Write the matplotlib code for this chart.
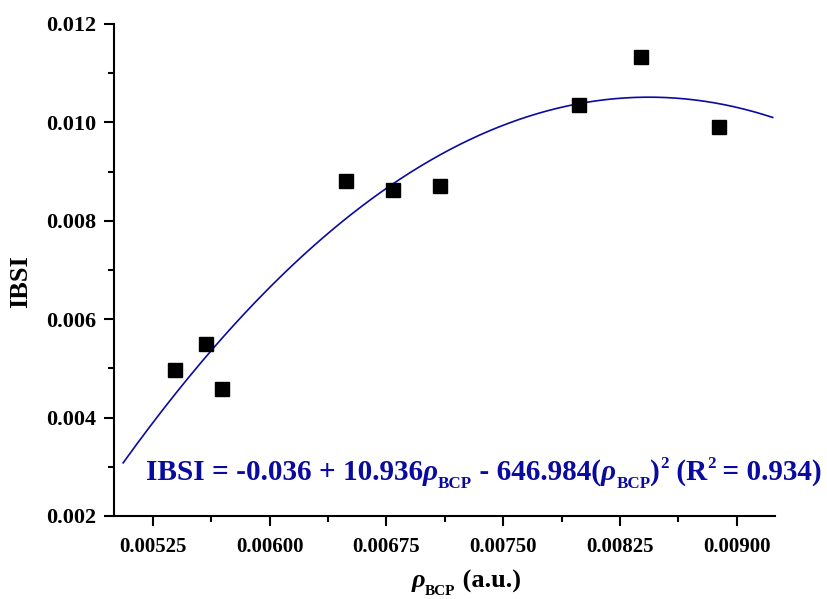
import numpy as np
import matplotlib
matplotlib.use("Agg")
import matplotlib.pyplot as plt
from matplotlib.ticker import MultipleLocator, FormatStrFormatter

plt.rcParams['font.family'] = ['Liberation Serif', 'DejaVu Serif']
plt.rcParams['font.weight'] = 'bold'

# data
rho_bcp = [0.005394, 0.005594, 0.005696, 0.006491, 0.006793, 0.007094, 0.007986, 0.008384, 0.008884]
ibsi = [0.00496, 0.00549, 0.00459, 0.00881, 0.00862, 0.00870, 0.01035, 0.01133, 0.00990]
x_ticks = [0.00525, 0.00600, 0.00675, 0.00750, 0.00825, 0.00900]
y_ticks = [0.002, 0.004, 0.006, 0.008, 0.010, 0.012]
fit_range = [0.00506, 0.00923]
# equation pieces: (text, kind)  kind: n normal, i italic, sub, sup
eq_pieces = [("IBSI = -0.036 + 10.936", 'n'), ("\u03c1", 'i'), ("BCP", 'sub'),
             (" - 646.984(", 'n'), ("\u03c1", 'i'), ("BCP", 'sub'), (")", 'n'),
             ("2", 'sup'), (" (R", 'n'), ("2", 'sup'), (" = 0.934)", 'n')]
xlabel_pieces = [("\u03c1", 'i'), ("BCP", 'sub'), (" (a.u.)", 'n')]

blue = '#0A0AA0'

fig = plt.figure(figsize=(8.27, 5.99), dpi=100)
ax = fig.add_axes([0.138, 0.1386, 0.799, 0.8214])

coef = np.polyfit(rho_bcp, ibsi, 2)
xs = np.linspace(fit_range[0], fit_range[1], 200)
ax.plot(xs, np.polyval(coef, xs), color=blue, lw=1.2, zorder=2)
ax.plot(rho_bcp, ibsi, 's', color='black', ms=9.5, zorder=3, clip_on=False)

ax.set_xlim(0.005002, 0.009244)
ax.set_ylim(0.002, 0.012)
ax.set_xticks(x_ticks)
ax.set_yticks(y_ticks)
ax.xaxis.set_minor_locator(MultipleLocator(0.000375))
ax.yaxis.set_minor_locator(MultipleLocator(0.001))
ax.xaxis.set_major_formatter(FormatStrFormatter('%.5f'))
ax.yaxis.set_major_formatter(FormatStrFormatter('%.3f'))

for s in ['top', 'right']:
    ax.spines[s].set_visible(False)
for s in ['left', 'bottom']:
    ax.spines[s].set_linewidth(1.5)
ax.tick_params(which='major', direction='out', length=7, width=1.5, pad=6)
ax.tick_params(axis='x', which='major', labelsize=15, pad=8)
ax.tick_params(axis='y', which='major', labelsize=16)
ax.tick_params(which='minor', direction='out', length=4, width=1.5)
for lab in ax.get_xticklabels() + ax.get_yticklabels():
    lab.set_fontweight('bold')

ax.set_ylabel('IBSI', fontsize=19, fontweight='bold')
ax.yaxis.set_label_coords(-0.124, 0.476)


def chain(pieces, x0, y0, base, color, coords):
    small = base * 0.58
    prev = None
    arts = []
    for txt, kind in pieces:
        size = base if kind in ('n', 'i') else small
        style = 'italic' if kind == 'i' else 'normal'
        dy = {'n': 0, 'i': 0, 'sub': -0.28 * base, 'sup': 0.42 * base}[kind]
        if prev is None:
            prev = ax.annotate(txt, xy=(x0, y0), xycoords=coords,
                               xytext=(0, dy), textcoords='offset points',
                               fontsize=size, fontstyle=style, fontweight='bold',
                               color=color, ha='left', va='baseline',
                               annotation_clip=False)
        else:
            prev = ax.annotate(txt, xy=(1, y0), xycoords=(prev, coords),
                               xytext=(0, dy), textcoords='offset points',
                               fontsize=size, fontstyle=style, fontweight='bold',
                               color=color, ha='left', va='baseline',
                               annotation_clip=False)
        arts.append(prev)
    return arts


chain(eq_pieces, 0.048, 0.073, 21.1, blue, 'axes fraction')

xl_y = -0.145
xl = chain(xlabel_pieces, 0.45, xl_y, 19, 'black', 'axes fraction')
fig.canvas.draw()
r = fig.canvas.get_renderer()
x_left = xl[0].get_window_extent(r).x0
x_right = xl[-1].get_window_extent(r).x1
ax_bb = ax.get_window_extent(r)
target_center = ax_bb.x0 + 352  # label centre in pixels from the axes' left edge
shift = target_center - (x_left + x_right) / 2
xl[0].xy = (0.45 + shift / ax_bb.width, xl_y)

fig.savefig('out.png', dpi=100)
